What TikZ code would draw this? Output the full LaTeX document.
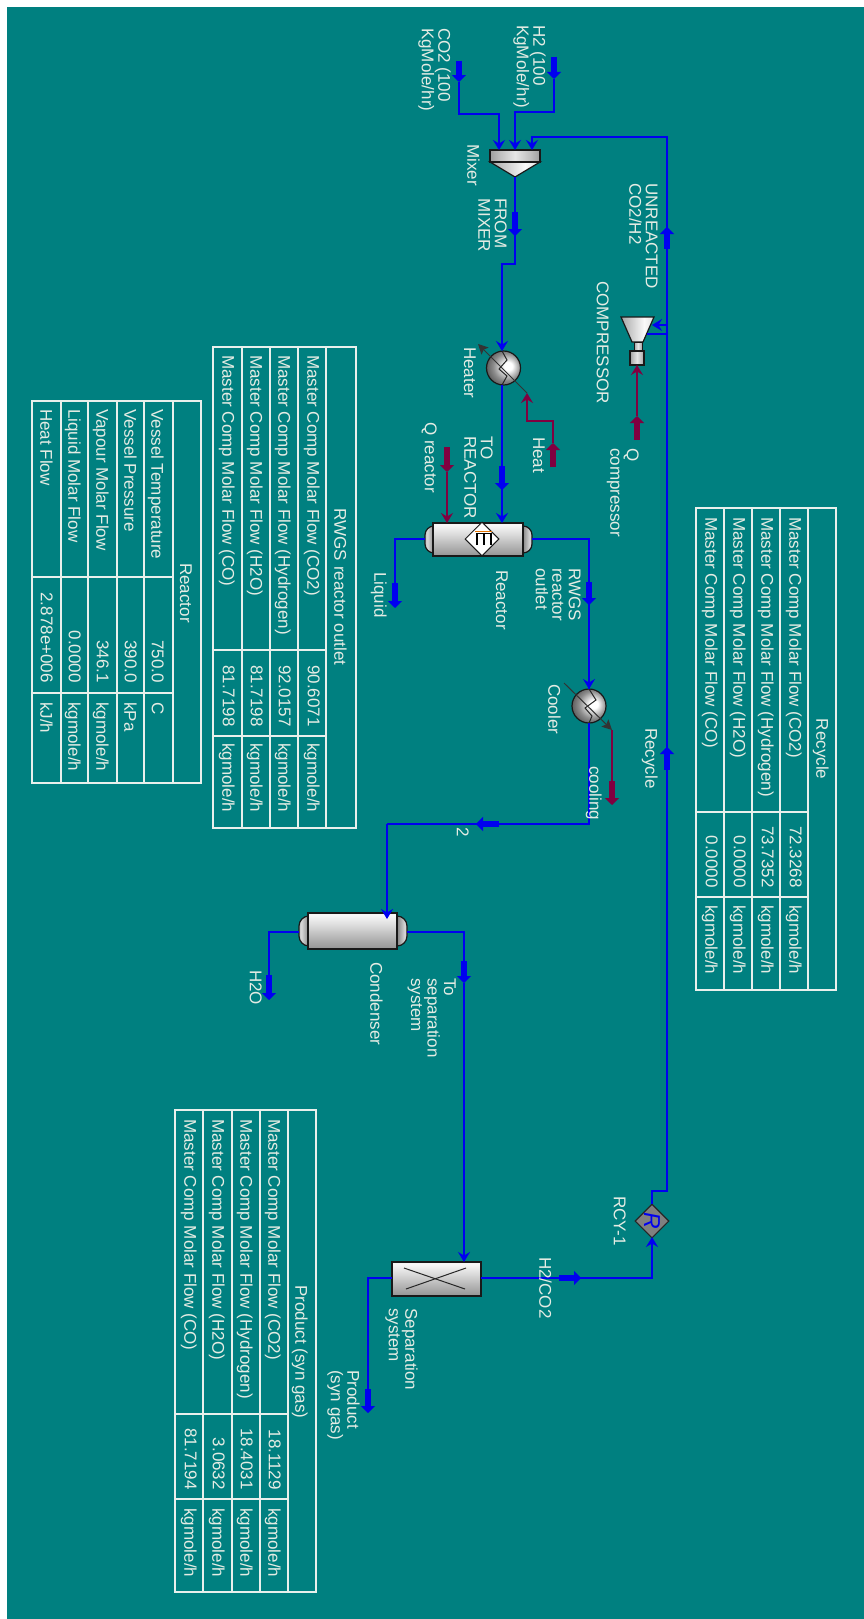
\documentclass[tikz,border=0pt]{standalone}
\usepackage{fontspec}
\setmainfont{Liberation Sans}
\usetikzlibrary{arrows.meta,shapes.geometric}
\definecolor{teal0}{HTML}{008080}
\definecolor{flowc}{HTML}{0000F0}
\definecolor{enc}{HTML}{800040}
\definecolor{txtc}{HTML}{E4ECE4}
\definecolor{gridc}{HTML}{E8F0EC}
\pgfdeclareverticalshading{vesselsh}{100bp}{color(0bp)=(black!60); color(10bp)=(black!55); color(25bp)=(black!42); color(42bp)=(black!28); color(58bp)=(black!14); color(72bp)=(black!3); color(85bp)=(black!6); color(100bp)=(black!30)}
\pgfdeclarehorizontalshading{capsh}{100bp}{color(0bp)=(black!70); color(35bp)=(black!25); color(50bp)=(black!10); color(65bp)=(black!25); color(100bp)=(black!70)}
\pgfdeclarehorizontalshading{capl}{100bp}{color(0bp)=(black!65); color(15bp)=(black!40); color(30bp)=(black!15); color(45bp)=(black!45); color(100bp)=(black!60)}
\pgfdeclarehorizontalshading{capr}{100bp}{color(0bp)=(black!60); color(55bp)=(black!45); color(70bp)=(black!15); color(85bp)=(black!40); color(100bp)=(black!65)}
\pgfdeclarehorizontalshading{conesh}{100bp}{color(0bp)=(black!60); color(30bp)=(black!30); color(60bp)=(black!2); color(80bp)=(black!15); color(100bp)=(black!50)}
\pgfdeclareradialshading{ballsh}{\pgfpoint{8bp}{3bp}}{color(0bp)=(white); color(6bp)=(white); color(20bp)=(black!45); color(32bp)=(black!70); color(50bp)=(black!85)}
\tikzset{
  flow/.style={draw=flowc,line width=2pt},
  flowin/.style={flow,-{Stealth[length=10pt,width=12pt,inset=3.5pt]}},
  stubb/.style={draw=flowc,line width=5.5pt,-{Triangle[length=7pt,width=14pt]}},
  en/.style={draw=enc,line width=1.6pt},
  enin/.style={en,-{Stealth[length=10pt,width=12pt,inset=3.5pt]}},
  stube/.style={draw=enc,line width=5.5pt,-{Triangle[length=7pt,width=14pt]}},
  tool/.style={draw=black!85,line width=1pt},
  toolar/.style={tool,-{Stealth[length=10pt,width=10pt,inset=2pt]},draw=black!80},
  equip/.style={draw=black!90,line width=1.2pt,inner sep=0pt},
  lbl/.style={rotate=-90,anchor=north west,align=left,inner sep=0pt,text=txtc,font=\fontsize{17}{16.5}\selectfont},
  lblr/.style={lbl,anchor=north east},
  grid/.style={draw=gridc,line width=1.1pt},
}
\newcommand{\lab}[4]{\node[lbl] (#1) at (#2,#3) {#4};}
\newcommand{\trow}[8]{\node[lbl] (#1a) at (#2,#3) {#4};\node[lblr] (#1b) at (#2,#5) {#6};\node[lbl] (#1c) at (#2,#7) {#8};}
\begin{document}
\begin{tikzpicture}[x=1pt,y=-1pt]
\useasboundingbox (0,0) rectangle (864,1619);
\fill[white] (0,0) rectangle (864,1619);
\fill[teal0] (7,7) rectangle (864,1619);

% equipment
\shade[draw=black!90,line width=1.2pt,shading=conesh] (490,162) -- (540,162) -- (515,177) -- cycle;
\node[equip,shading=capsh,minimum width=50pt,minimum height=12pt] (mixer) at (515,156) {};

\shade[draw=black!90,line width=1.2pt,shading=conesh] (621,317) -- (654,317) -- (643,342) -- (632,342) -- cycle;
\shade[draw=black!90,line width=1pt,shading=capsh] (634,342) rectangle (642,352);
\node[equip,shading=capsh,minimum width=14pt,minimum height=14pt] (compressor) at (637,358) {};

\node[equip,circle,shading=ballsh,minimum size=34pt] (heater) at (503.5,368) {};
\node[equip,circle,shading=ballsh,minimum size=34pt] (cooler) at (589,706) {};

\shade[draw=black!90,line width=1.2pt,shading=capl,rounded corners=9pt] (425,526) rectangle (447,553);
\shade[draw=black!90,line width=1.2pt,shading=capr,rounded corners=9pt] (510,526) rectangle (532,553);
\node[equip,shading=vesselsh,minimum width=90pt,minimum height=33pt] (reactor) at (478,539.5) {};
\node[draw=black!90,line width=1pt,fill=white,diamond,inner sep=0pt,minimum width=34pt,minimum height=34pt] (ediam) at (482,539) {};
\draw[orange!90!black,line width=1.4pt] (475,531.5) -- (492,531.5);
\draw[black,line width=1.6pt] (477,545) -- (477,533.5) -- (491,533.5) -- (491,545);
\draw[black,line width=1.6pt] (484,533.5) -- (484,545);

\shade[draw=black!90,line width=1.2pt,shading=capl,rounded corners=10pt] (299,916) rectangle (322,946);
\shade[draw=black!90,line width=1.2pt,shading=capr,rounded corners=10pt] (384,916) rectangle (407,946);
\node[equip,shading=vesselsh,minimum width=89pt,minimum height=36pt] (condenser) at (352.5,931) {};

\node[equip,shading=vesselsh,line width=1.5pt,minimum width=89pt,minimum height=34pt] (sep) at (436.5,1279) {};
\draw[black!85,line width=1pt] (404,1268) -- (465,1289);
\draw[black!85,line width=1pt] (406,1289) -- (466,1268);

\node[draw=black!85,line width=1.1pt,fill=black!50,diamond,inner sep=0pt,minimum width=34pt,minimum height=34pt] (rcy) at (652,1221) {};
\node[rotate=-90,inner sep=0pt,text=flowc,font=\fontsize{23}{23}\selectfont\itshape] (rcyr) at (652,1221) {R};

% coordinates of ports and bends
\coordinate (co2s) at (459,61);  \coordinate (co2t) at (459,82);
\coordinate (co2b) at (499,114); \coordinate (mixa) at (499,150);
\coordinate (h2s) at (554,57);   \coordinate (h2t) at (554,79);
\coordinate (h2b) at (515,112);  \coordinate (mixb) at (515,150);
\coordinate (mixc) at (532,150); \coordinate (recb) at (532,137);
\coordinate (rect) at (667,137); \coordinate (recl) at (667,1191);
\coordinate (recm) at (652,1191);
\coordinate (rcyt) at (652,1204);\coordinate (rcyb) at (652,1237);
\coordinate (mixo) at (515,177); \coordinate (fms) at (515,212); \coordinate (fmt) at (515,236);
\coordinate (fmb) at (502,264);  \coordinate (hin) at (502,351);
\coordinate (hout) at (502,385); \coordinate (tos) at (502,466); \coordinate (tot) at (502,490);
\coordinate (rin) at (502,523);
\coordinate (rout) at (532,539); \coordinate (rwb) at (589,539);
\coordinate (rws) at (589,582);  \coordinate (rwt) at (589,605);
\coordinate (cin) at (589,689);  \coordinate (cout) at (589,723);
\coordinate (cob) at (589,824);  \coordinate (t2s) at (499,824); \coordinate (t2t) at (476,824);
\coordinate (t2l) at (387,824);  \coordinate (cdin) at (387,919);
\coordinate (rlq) at (425,539);  \coordinate (lqb) at (395,539);
\coordinate (lqs) at (395,583);  \coordinate (lqt) at (395,608);
\coordinate (cdr) at (407,932);  \coordinate (cdrb) at (464,932);
\coordinate (tss) at (464,961);  \coordinate (tst) at (464,983); \coordinate (sepin) at (464,1262);
\coordinate (cdl) at (299,932);  \coordinate (wb) at (269,932);
\coordinate (ws) at (269,975);   \coordinate (wt) at (269,1000);
\coordinate (sepr) at (481,1278);\coordinate (h2cs) at (559,1278); \coordinate (h2ct) at (581,1278);
\coordinate (h2cb) at (652,1278);
\coordinate (sepl) at (392,1278);\coordinate (pb) at (368,1278);
\coordinate (ps) at (368,1389);  \coordinate (pt) at (368,1413);
\coordinate (cma) at (667,325);  \coordinate (cmain) at (652,325);
\coordinate (cmb) at (667,334);  \coordinate (cmout) at (647,334);
\coordinate (uns) at (667,249);  \coordinate (unt) at (667,227);
\coordinate (res) at (667,770);  \coordinate (ret) at (667,747);
\coordinate (qcs) at (637,440);  \coordinate (qct) at (637,416); \coordinate (qcin) at (637,365);
\coordinate (hts) at (553,467);  \coordinate (htt) at (553,443);
\coordinate (htb) at (527,421);  \coordinate (htin) at (527,393);
\coordinate (qrs) at (447,447);  \coordinate (qrt) at (447,472); \coordinate (qrin) at (447,523);
\coordinate (hdl) at (478,344);
\coordinate (cdg) at (564,683);  \coordinate (cdt) at (612,730);
\coordinate (cls) at (612,781);  \coordinate (clt) at (612,805);

% tool lines on the heat exchangers
\draw[tool] (502,351) -- (507,360) -- (499,369) -- (507,376) -- (502,385);
\draw[toolar] (htin) -- (hdl);
\draw[tool] (589,689) -- (596,700) -- (585,708) -- (592,716) -- (589,723);
\draw[toolar] (cdg) -- (cdt);

% streams
\draw[flowin] (co2t) |- (co2b) -- (mixa);
\draw[flowin] (h2t) |- (h2b) -- (mixb);
\draw[flowin] (rcyt) -- (recm) -- (recl) -- (rect) -- (recb) -- (mixc);
\draw[flowin] (mixo) -- (fmb -| mixo) -- (fmb) -- (hin);
\draw[flowin] (hout) -- (rin);
\draw[flow] (rout) -- (rwb) -- (cin);
\draw[flowin] (rwb) -- (cin);
\draw[flow] (cout) -- (cob) -- (t2l);
\draw[flowin] (t2l) -- (cdin);
\draw[flow] (rlq) -- (lqb) -- (lqs);
\draw[flow] (cdr) -- (cdrb) -- (tss);
\draw[flowin] (tst) -- (sepin);
\draw[flow] (cdl) -- (wb) -- (ws);
\draw[flowin] (sepr) -- (h2cb) -- (rcyb);
\draw[flow] (sepl) -- (pb) -- (ps);
\draw[flowin] (cma) -- (cmain);
\draw[flow] (cmb) -- (cmout);

% energy streams
\draw[enin] (qct) -- (qcin);
\draw[enin] (htt) |- (htb) -- (htin);
\draw[enin] (qrt) -- (qrin);
\draw[en] (cdt) -- (cls);

% stream icons
\draw[stubb] (co2s) -- (co2t);
\draw[stubb] (h2s) -- (h2t);
\draw[stubb] (fms) -- (fmt);
\draw[stubb] (tos) -- (tot);
\draw[stubb] (rws) -- (rwt);
\draw[stubb] (t2s) -- (t2t);
\draw[stubb] (lqs) -- (lqt);
\draw[stubb] (tss) -- (tst);
\draw[stubb] (ws) -- (wt);
\draw[stubb] (h2cs) -- (h2ct);
\draw[stubb] (ps) -- (pt);
\draw[stubb] (uns) -- (unt);
\draw[stubb] (res) -- (ret);
\draw[stube] (qcs) -- (qct);
\draw[stube] (hts) -- (htt);
\draw[stube] (qrs) -- (qrt);
\draw[stube] (cls) -- (clt);

% labels
\lab{l1}{451}{28}{CO2 (100\\KgMole/hr)}
\lab{l2}{546}{25}{H2 (100\\KgMole/hr)}
\lab{l3}{480}{144}{Mixer}
\lab{l4}{507}{198}{FROM\\MIXER}
\lab{l5}{658}{183}{UNREACTED\\CO2/H2}
\lab{l6}{609}{281}{COMPRESSOR}
\lab{l7}{476}{347}{Heater}
\lab{l8}{545}{437}{Heat}
\lab{l9}{639}{448}{Q\\compressor}
\lab{l10}{493}{436}{TO\\REACTOR}
\lab{l11}{437}{422}{Q reactor}
\lab{l12}{508}{570}{Reactor}
\lab{l13}{581}{568}{RWGS\\reactor\\outlet}
\lab{l14}{561}{684}{Cooler}
\lab{l15}{602}{766}{cooling}
\lab{l16}{658}{728}{Recycle}
\lab{l17}{469}{827}{2}
\lab{l18}{387}{572}{Liquid}
\lab{l19}{383}{962}{Condenser}
\lab{l20}{456}{978}{To\\separation\\system}
\lab{l21}{262}{970}{H2O}
\lab{l22}{418}{1308}{Separation\\system}
\lab{l23}{360}{1370}{Product\\(syn gas)}
\lab{l24}{552}{1257}{H2/CO2}
\lab{l25}{626}{1196}{RCY-1}

% table: Recycle
\draw[grid] (696,508) rectangle (836,990);
\foreach \x in {724,752,780,808} \draw[grid] (\x,508) -- (\x,990);
\draw[grid] (696,812) -- (808,812);
\draw[grid] (696,897) -- (808,897);
\node[lbl,anchor=north] (tah) at (829,749) {Recycle};
\trow{ta1}{802}{517}{Master Comp Molar Flow (CO2)}{888}{72.3268}{905}{kgmole/h}
\trow{ta2}{774}{517}{Master Comp Molar Flow (Hydrogen)}{888}{73.7352}{905}{kgmole/h}
\trow{ta3}{746}{517}{Master Comp Molar Flow (H2O)}{888}{0.0000}{905}{kgmole/h}
\trow{ta4}{718}{517}{Master Comp Molar Flow (CO)}{888}{0.0000}{905}{kgmole/h}

% table: RWGS reactor outlet
\draw[grid] (213,347) rectangle (356,828);
\foreach \x in {242,270,298,326} \draw[grid] (\x,347) -- (\x,828);
\draw[grid] (213,650) -- (326,650);
\draw[grid] (213,736) -- (326,736);
\node[lbl,anchor=north] (tbh) at (347,587) {RWGS reactor outlet};
\trow{tb1}{320}{355}{Master Comp Molar Flow (CO2)}{727}{90.6071}{743}{kgmole/h}
\trow{tb2}{291}{355}{Master Comp Molar Flow (Hydrogen)}{727}{92.0157}{743}{kgmole/h}
\trow{tb3}{263}{355}{Master Comp Molar Flow (H2O)}{727}{81.7198}{743}{kgmole/h}
\trow{tb4}{235}{355}{Master Comp Molar Flow (CO)}{727}{81.7198}{743}{kgmole/h}

% table: Reactor
\draw[grid] (32,401) rectangle (201,783);
\foreach \x in {61,88,117,144,173} \draw[grid] (\x,401) -- (\x,783);
\draw[grid] (32,577) -- (173,577);
\draw[grid] (32,693) -- (173,693);
\node[lbl,anchor=north] (tch) at (192,593) {Reactor};
\trow{tc1}{164}{409}{Vessel Temperature}{683}{750.0}{702}{C}
\trow{tc2}{137}{409}{Vessel Pressure}{683}{390.0}{702}{kPa}
\trow{tc3}{109}{409}{Vapour Molar Flow}{683}{346.1}{702}{kgmole/h}
\trow{tc4}{81}{409}{Liquid Molar Flow}{683}{0.0000}{702}{kgmole/h}
\trow{tc5}{53}{409}{Heat Flow}{683}{2.878e+006}{702}{kJ/h}

% table: Product (syn gas)
\draw[grid] (175,1110) rectangle (316,1592);
\foreach \x in {203,232,260,288} \draw[grid] (\x,1110) -- (\x,1592);
\draw[grid] (175,1414) -- (288,1414);
\draw[grid] (175,1499) -- (288,1499);
\node[lbl,anchor=north] (tdh) at (308,1352) {Product (syn gas)};
\trow{td1}{281}{1119}{Master Comp Molar Flow (CO2)}{1490}{18.1129}{1508}{kgmole/h}
\trow{td2}{253}{1119}{Master Comp Molar Flow (Hydrogen)}{1490}{18.4031}{1508}{kgmole/h}
\trow{td3}{225}{1119}{Master Comp Molar Flow (H2O)}{1490}{3.0632}{1508}{kgmole/h}
\trow{td4}{197}{1119}{Master Comp Molar Flow (CO)}{1490}{81.7194}{1508}{kgmole/h}
\end{tikzpicture}
\end{document}
